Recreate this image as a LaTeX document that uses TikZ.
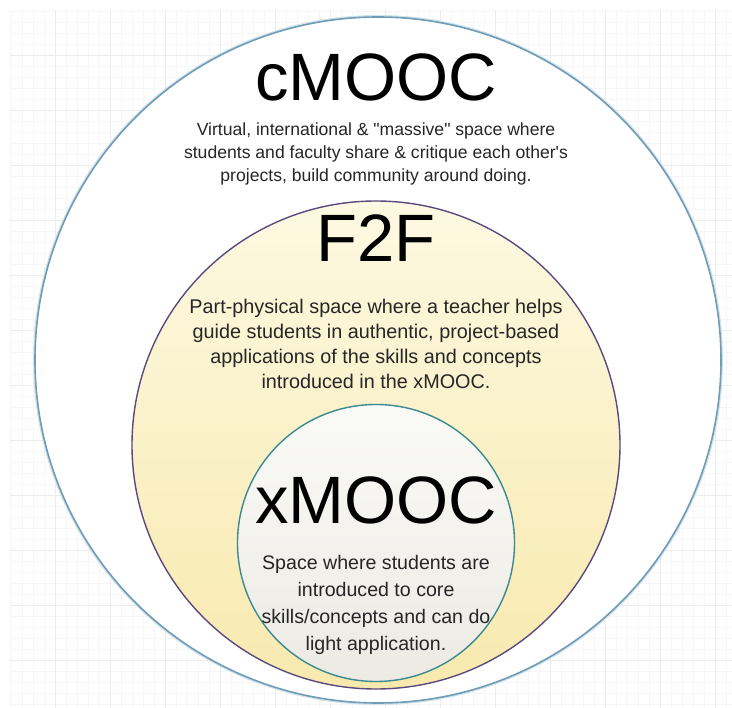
\documentclass[tikz,border=0pt]{standalone}
\usepackage{fontspec}
\setmainfont{Liberation Sans}[Ligatures=TeXOff]
\usetikzlibrary{positioning}
\definecolor{gridminor}{HTML}{F6F6F8}
\definecolor{gridmajor}{HTML}{EDEDF0}
\definecolor{outerline}{HTML}{6F9DB8}
\definecolor{f2fline}{HTML}{5B4A7E}
\definecolor{f2ftop}{HTML}{FDF9E2}
\definecolor{f2fbottom}{HTML}{F8E9AE}
\definecolor{xline}{HTML}{3B8A8F}
\definecolor{xtop}{HTML}{FAFAF8}
\definecolor{xbottom}{HTML}{ECEAE3}
\definecolor{bodytext}{HTML}{262626}
\begin{document}
\begin{tikzpicture}[
			x=1pt, y=-1pt,
			ring/.style = {circle, inner sep=0pt},
			title/.style = {inner sep=0pt, font=\fontsize{67}{67}\selectfont, text=black},
			body/.style = {inner sep=0pt, align=center, text=bodytext},
		]
		\useasboundingbox (0,0) rectangle (732,708);
		\fill[white] (0,0) rectangle (732,708);

		% Background grid
		\draw[gridminor, line width=0.5pt, step=11pt] (10,10) grid (732,708);
		\draw[gridmajor, line width=0.6pt, step=55pt] (10,10) grid (732,708);

		% Circles
		\node [ring, draw=outerline!30, line width=4pt, minimum size=686pt] at (378,360) {};
		\node [ring, draw=outerline, fill=white, line width=1.6pt, minimum size=686pt] (cmooc) at (378,360) {};
		\node [ring, draw=f2fline, line width=1.4pt, top color=f2ftop, bottom color=f2fbottom,
			minimum size=488pt] (f2f) at (376,445) {};
		\node [ring, draw=xline, line width=1.4pt, top color=xtop, bottom color=xbottom,
			minimum size=277pt] (xmooc) at (376,543) {};

		% cMOOC
		\node [title] (cmooctitle) at (376,77) {cMOOC};
		\node [body, font=\fontsize{17.6}{23}\selectfont] (cmoocbody) at (376,154)
			{Virtual, international \& "massive" space where\\
			students and faculty share \& critique each other's\\
			projects, build community around doing.};

		% F2F
		\node [title] (f2ftitle) at (376,238) {F2F};
		\node [body, font=\fontsize{19.8}{25}\selectfont] (f2fbody) at (376,344)
			{Part-physical space where a teacher helps\\
			guide students in authentic, project-based\\
			applications of the skills and concepts\\
			introduced in the xMOOC.};

		% xMOOC
		\node [title] (xmooctitle) at (376,500) {xMOOC};
		\node [body, font=\fontsize{19.6}{27}\selectfont] (xmoocbody) at (376,605)
			{Space where students are\\
			introduced to core\\
			skills/concepts and can do\\
			light application.};
	\end{tikzpicture}
\end{document}
